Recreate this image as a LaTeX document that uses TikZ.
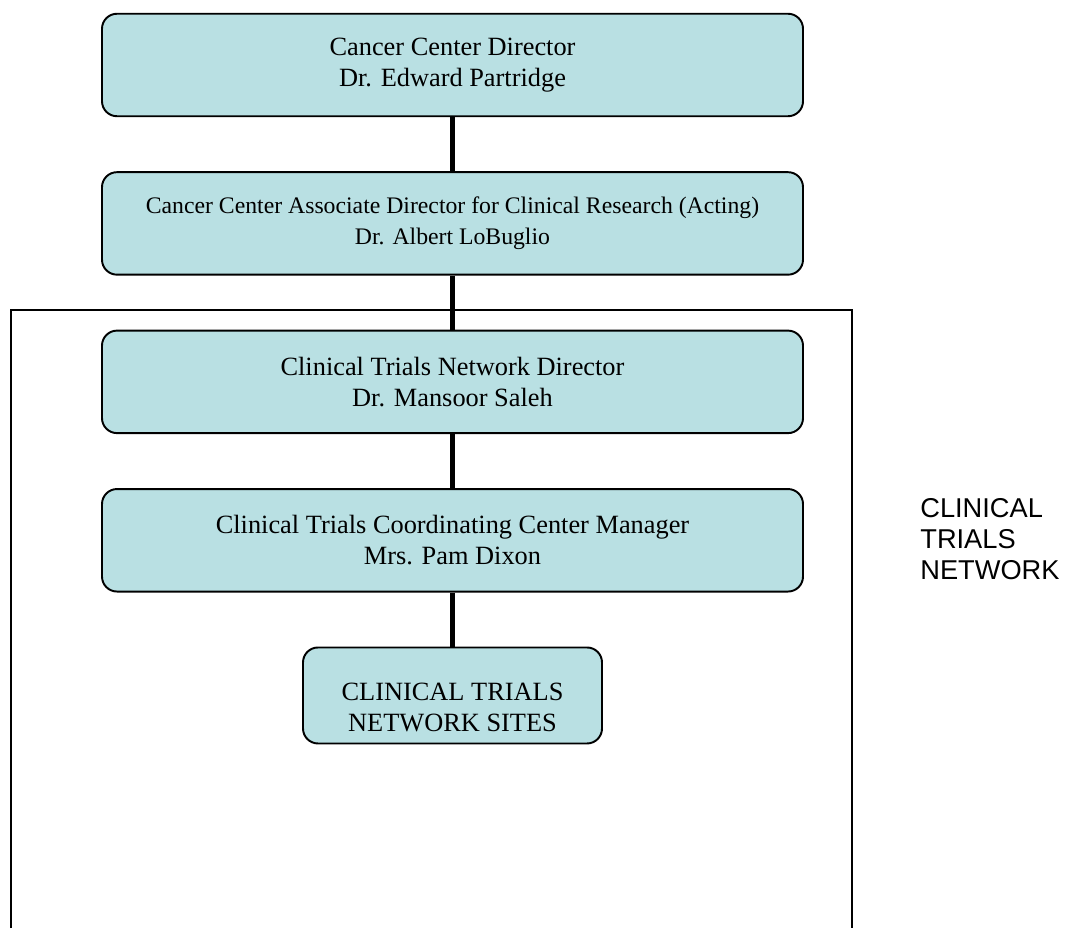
\documentclass[tikz,border=0pt]{standalone}
\usepackage{fontspec}
\setmainfont{Liberation Serif}
\newfontfamily\labelfont{Liberation Sans}
\usepackage{xcolor}
\usetikzlibrary{positioning}
\definecolor{boxcyan}{RGB}{185,224,227}

\begin{document}
\begin{tikzpicture}[node distance=1.08cm]
\tikzstyle{box}=[rounded corners=0.3cm,draw,line width=1.1pt,align=center,minimum width=14.02cm,minimum height=2.05cm,fill=boxcyan,font=\fontsize{15}{17.5}\selectfont]
\tikzstyle{sbox}=[box,minimum width=5.98cm,minimum height=1.92cm]
\tikzstyle{conn}=[line width=2.8pt]
\useasboundingbox (0,0) rectangle (21.36,18.56);
% network frame, open at the bottom
\draw[line width=0.9pt] (0.22,0) |- (17.04,12.36) -- (17.04,0);
\node[box] (ccdir) at (9.05,17.26) {Cancer Center Director\\Dr. Edward Partridge};
\node[box,below=of ccdir,font=\fontsize{13.5}{17.5}\selectfont] (assoc) {Cancer Center Associate Director for Clinical Research (Acting)\\Dr. Albert LoBuglio};
\node[box,below=of assoc] (ctndir) {Clinical Trials Network Director\\Dr. Mansoor Saleh};
\node[box,below=of ctndir] (coord) {Clinical Trials Coordinating Center Manager\\Mrs. Pam Dixon};
\node[sbox,below=of coord] (sites) {\rule{0pt}{24pt}CLINICAL TRIALS\\NETWORK SITES};
\draw[conn] (ccdir) -- (assoc);
\draw[conn] (assoc) -- (ctndir);
\draw[conn] (ctndir) -- (coord);
\draw[conn] (coord) -- (sites);
\node[align=left,anchor=west,inner sep=0pt,font=\labelfont\fontsize{15.5}{17.5}\selectfont] (ctnlabel) at (18.4,7.78) {CLINICAL\\TRIALS\\NETWORK};
\end{tikzpicture}
\end{document}
